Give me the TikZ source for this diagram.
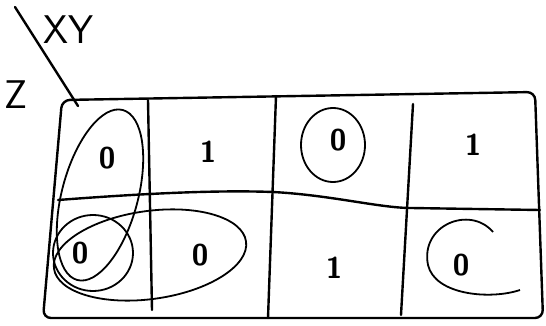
\documentclass[tikz,border=0pt]{standalone}
\usepackage{tikz}
\usetikzlibrary{positioning}
\usetikzlibrary{calc}

\tikzset{
    gridline/.style={line width=2.4pt, line cap=round, line join=round},
    ring/.style={line width=1.8pt},
    cellval/.style={font=\sffamily\bfseries\fontsize{30}{30}\selectfont, inner sep=0pt},
    varlabel/.style={font=\sffamily\fontsize{40}{40}\selectfont, inner sep=0pt}
}

\begin{document}
\begin{tikzpicture}[x=1pt, y=-1pt]
    \useasboundingbox (0,0) rectangle (546,326);

    % frame and cell lines
    \draw[gridline, rounded corners=8pt] (62,100) -- (535,92) -- (543,318) -- (43,318) -- cycle;
    \draw[gridline] (148,100) -- (152,310);
    \draw[gridline] (276,96) -- (268,318);
    \draw[gridline] (413,104) -- (401,315);
    \draw[gridline] (58,200) .. controls (150,193) and (220,190) .. (273,192)
                    .. controls (330,195) and (380,208) .. (411,208) -- (540,210);

    % variable labels
    \node[varlabel] (xy) at (68,30) {XY};
    \node[varlabel] (z) at (16,95) {Z};
    \coordinate (tick) at (15,7);
    \coordinate (corner) at (78,106);
    \draw[gridline] (tick) -- (corner);

    % cell values
    \node[cellval] (c11) at (107,158) {0};
    \node[cellval] (c12) at (208,152) {1};
    \node[cellval] (c13) at (338,140) {0};
    \node[cellval] (c14) at (473,145) {1};
    \node[cellval] (c21) at (80,253) {0};
    \node[cellval] (c22) at (200,255) {0};
    \node[cellval] (c23) at (334,268) {1};
    \node[cellval] (c24) at (461,265) {0};

    % groupings
    \draw[ring, rotate around={-15:(100,195)}] (100,195) ellipse (38 and 88);
    \draw[ring, rotate around={8:(150,255)}] (150,255) ellipse (97 and 44);
    \draw[ring] (c21) ++(13,0) ellipse (40 and 38);
    \draw[ring] (c13) ++(-5,5) ellipse (32 and 37);
    \draw[ring] (493,232) .. controls (470,205) and (420,225) .. (428,265)
                .. controls (435,295) and (490,300) .. (520,290);
\end{tikzpicture}
\end{document}
